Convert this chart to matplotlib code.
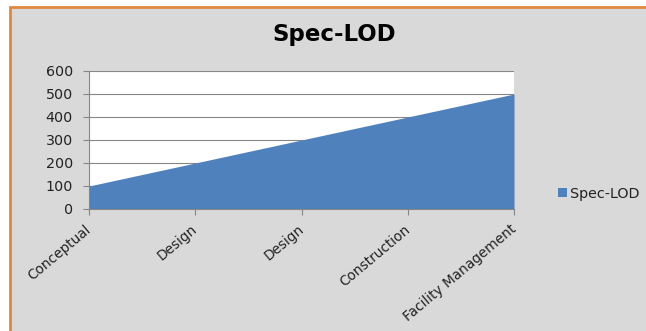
import matplotlib
matplotlib.use("Agg")
from matplotlib import pyplot as plt
from matplotlib.patches import Rectangle
from matplotlib.transforms import ScaledTranslation
import numpy as np

plt.rcParams['font.family'] = ['DejaVu Sans']

phases = ['Conceptual', 'Design', 'Design', 'Construction', 'Facility Management']
lod = [100, 200, 300, 400, 500]
series_name = 'Spec-LOD'

fig = plt.figure(figsize=(6.46, 3.31), dpi=100)
fig.patch.set_facecolor('white')

# grey chart frame with orange outline
frame = Rectangle((10 / 646, -0.05), 1.0, 1 - 7 / 331 + 0.05, transform=fig.transFigure,
                  facecolor='#d9d9d9', edgecolor='#e0873f', linewidth=2, zorder=-5)
fig.patches.append(frame)

ax = fig.add_axes([89 / 646, 1 - 209 / 331, (514 - 89) / 646, (209 - 71) / 331])
ax.set_zorder(2)
ax.set_facecolor('white')

x = np.arange(len(phases))
ax.fill_between(x, lod, 0, color='#4f81bd', linewidth=0, label=series_name, zorder=2)

ax.set_xlim(0, len(phases) - 1)
ax.set_ylim(0, 600)
ax.set_yticks(np.arange(0, 700, 100))
ax.yaxis.grid(True, color='#868686', linewidth=0.8, zorder=1)
ax.set_axisbelow(True)

ax.set_xticks(x)
ax.set_xticklabels(phases, rotation=40, ha='right', va='top', rotation_mode='anchor',
                   fontsize=9.8, color='#222222')
for lbl in ax.get_yticklabels():
    lbl.set_fontsize(10.3)
    lbl.set_color('#222222')

for side in ['top', 'right']:
    ax.spines[side].set_visible(False)
for side in ['left', 'bottom']:
    ax.spines[side].set_color('#868686')
    ax.spines[side].set_linewidth(0.8)
ax.tick_params(axis='x', color='#868686', length=4, width=0.8, pad=4)
ax.tick_params(axis='y', color='#868686', length=4.5, width=0.8, pad=7)
ax.spines['bottom'].set_zorder(3)

# nudge the slanted category labels a little left and down
shift = ScaledTranslation(-4 / 100, -2 / 100, fig.dpi_scale_trans)
for lbl in ax.get_xticklabels():
    lbl.set_transform(lbl.get_transform() + shift)

fig.text(334 / 646, 1 - 35 / 331, 'Spec-LOD', ha='center', va='center',
         fontsize=16.5, fontweight='bold', color='black')

leg = fig.legend(loc='center left', bbox_to_anchor=(551 / 646, 1 - 194 / 331),
                 frameon=False, fontsize=10.3, handlelength=0.6, handleheight=0.6,
                 handletextpad=0.2, borderpad=0)
for t in leg.get_texts():
    t.set_color('#222222')

fig.savefig('out.png', dpi=100)
